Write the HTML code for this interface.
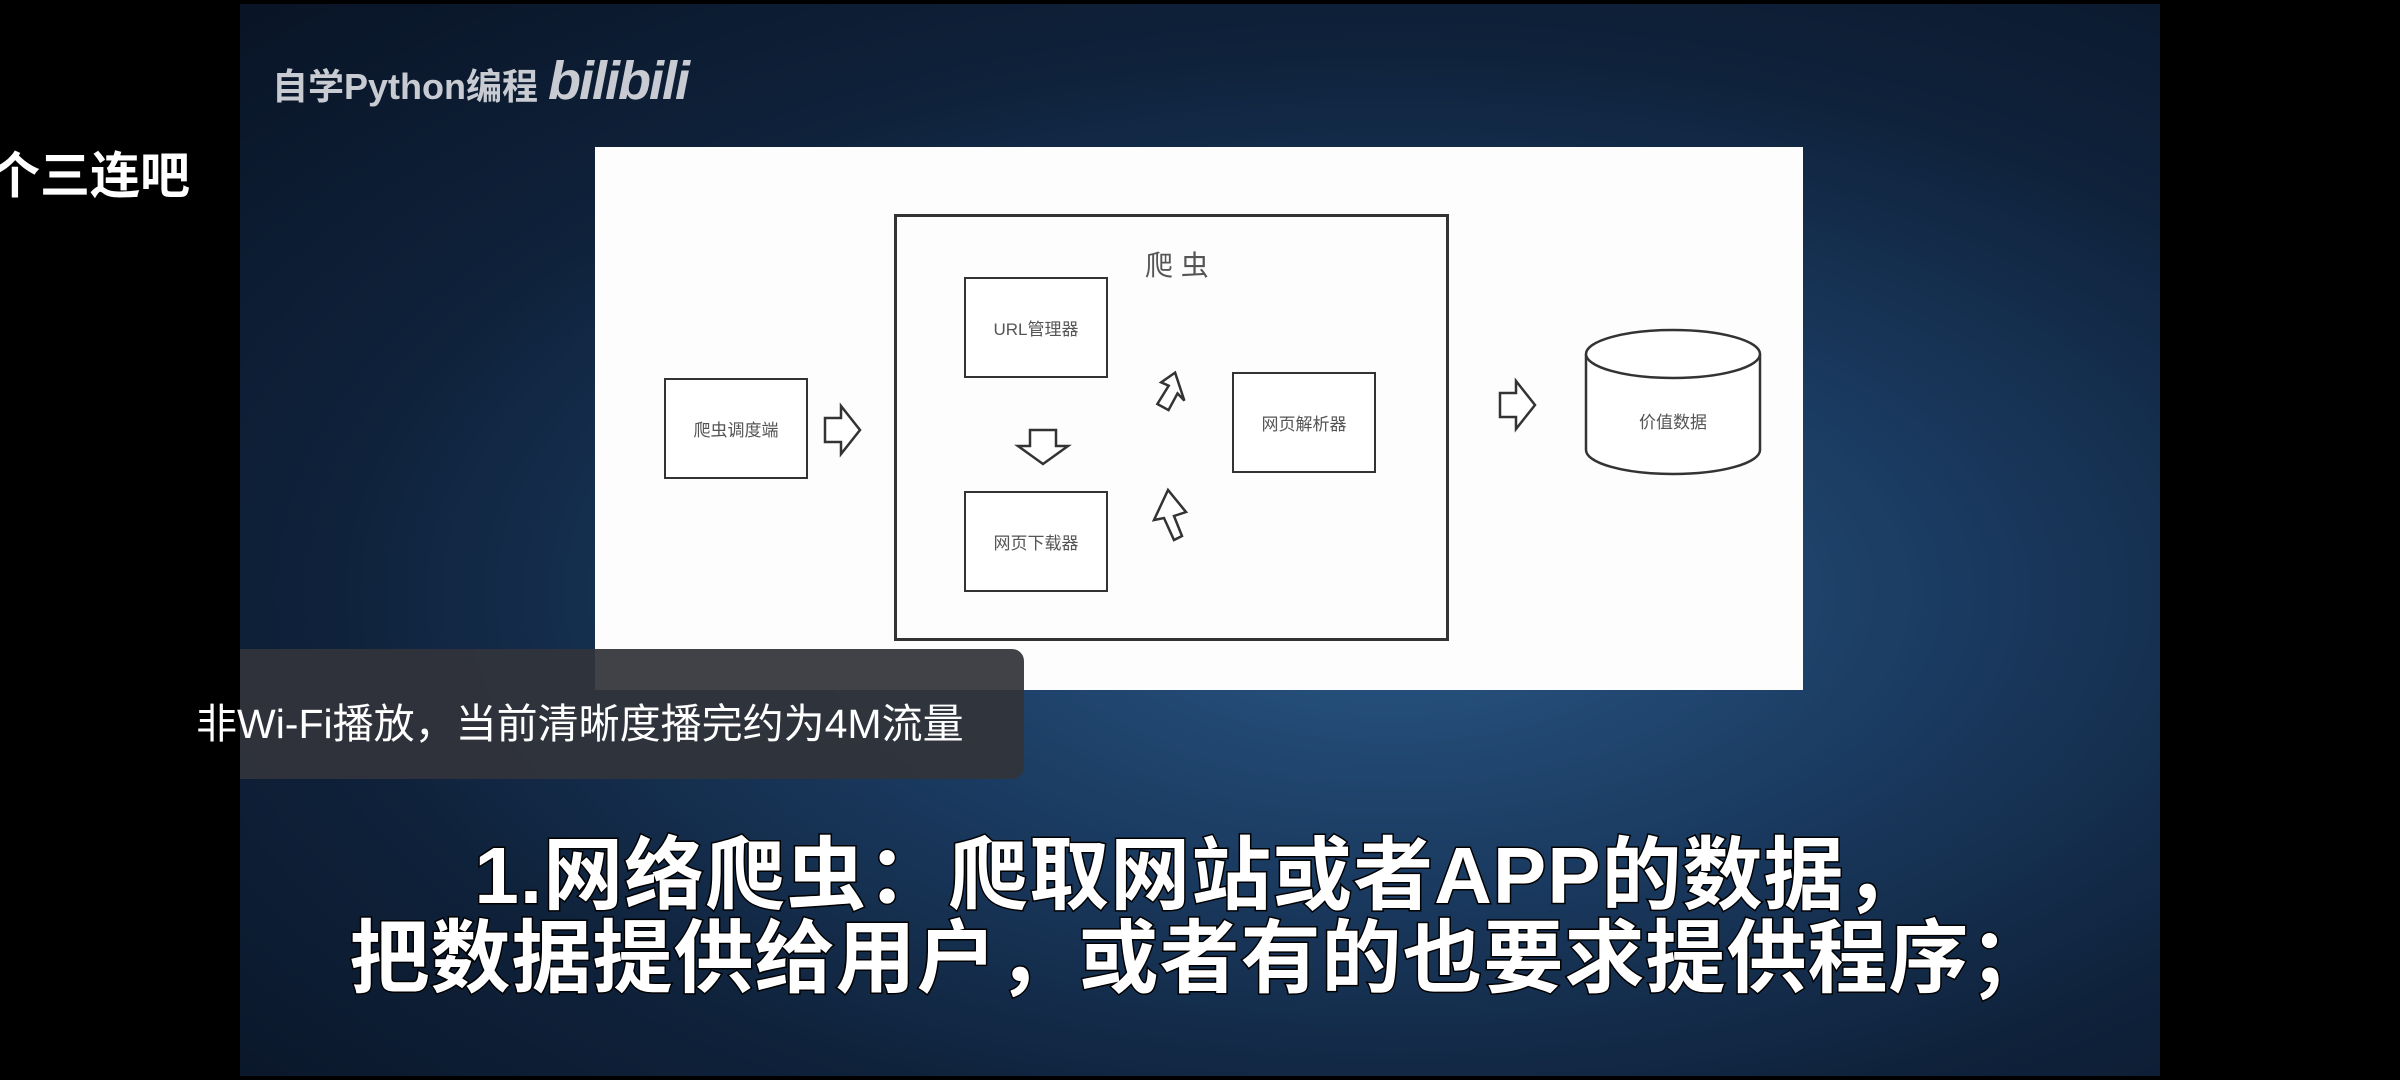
<!DOCTYPE html>
<html><head><meta charset="utf-8"><style>
body{margin:0;width:2400px;height:1080px;background:#000;position:relative;overflow:hidden;font-family:"Liberation Sans","Noto Sans CJK SC",sans-serif}
.vid{position:absolute;left:240px;top:4px;width:1920px;height:1072px;background:radial-gradient(ellipse at 60% 55%,#2a5886 0%,#1a3a60 35%,#0f223b 65%,#091426 100%)}
.abs{position:absolute}
.box{position:absolute;border:2px solid #333;background:#fff;box-sizing:border-box;display:flex;align-items:center;justify-content:center;font-size:17px;color:#555}
.sub{position:absolute;left:240px;width:1920px;text-align:center;color:#fff;font-size:80px;font-weight:bold;-webkit-text-stroke:3px #000;paint-order:stroke fill;letter-spacing:1px}
</style></head><body>
<div class="vid"></div>
<div class="abs" style="left:272px;top:50px;font-size:36px;color:#c8ccd2;font-weight:bold">自学Python编程 <span style="font-size:54px;font-style:italic;letter-spacing:-2px">bilibili</span></div>
<div class="abs" style="left:-10px;top:136px;font-size:50px;color:#fff;font-weight:bold">个三连吧</div>
<div class="abs" style="left:595px;top:147px;width:1208px;height:543px;background:#fdfdfd"></div>
<div class="abs" style="left:894px;top:214px;width:555px;height:427px;border:3px solid #333;box-sizing:border-box"></div>
<div class="abs" style="left:1145px;top:244px;font-size:28px;color:#555">爬 虫</div>
<div class="box" style="left:964px;top:277px;width:144px;height:101px">URL管理器</div>
<div class="box" style="left:964px;top:491px;width:144px;height:101px">网页下载器</div>
<div class="box" style="left:1232px;top:372px;width:144px;height:101px">网页解析器</div>
<div class="box" style="left:664px;top:378px;width:144px;height:101px">爬虫调度端</div>
<svg class="abs" style="left:0;top:0" width="2400" height="1080">
<g fill="#fff" stroke="#333" stroke-width="2.5">
<path d="M825,418 h16 v-12 l19,24 l-19,24 v-12 h-16 z"/>
<path d="M1500,393 h16 v-12 l19,24 l-19,24 v-12 h-16 z"/>
<path d="M1030,430 h26 v16 h12 l-25,18 l-25,-18 h12 z"/>
<path d="M1172,372 l-12,12 l8,2 l-8,20 l12,4 l6,-18 l8,6 z" transform="rotate(10 1170 390)"/>
<path d="M1168,490 l-14,30 l10,-2 l10,22 l8,-4 l-8,-20 l12,-4 z"/>
<path d="M1586,354 v96 a87,24 0 0 0 174,0 v-96"/>
<ellipse cx="1673" cy="354" rx="87" ry="24"/>
</g>
<text x="1673" y="428" font-size="17" fill="#555" text-anchor="middle" font-family="Liberation Sans,Noto Sans CJK SC,sans-serif">价值数据</text>
</svg>
<div class="abs" style="left:240px;top:649px;width:784px;height:130px;background:rgba(50,52,58,0.93);border-radius:0 12px 12px 0"></div>
<div class="abs" style="left:196px;top:690px;font-size:41px;color:#fff">非Wi-Fi播放，当前清晰度播完约为4M流量</div>
<div class="sub" style="top:811px">1.网络爬虫：爬取网站或者APP的数据，</div>
<div class="sub" style="top:894px">把数据提供给用户，或者有的也要求提供程序；</div>
</body></html>
